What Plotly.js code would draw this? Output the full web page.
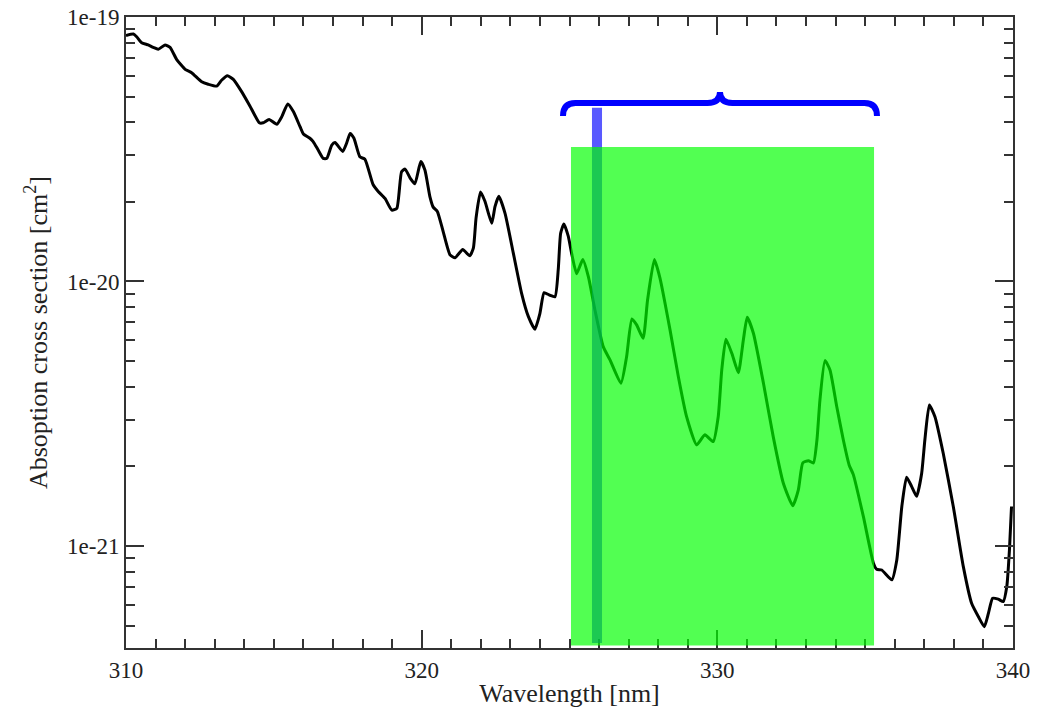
<!DOCTYPE html>
<html>
<head>
<meta charset="utf-8">
<script src="https://cdn.plot.ly/plotly-3.0.1.min.js"></script>
<style>
html,body{margin:0;padding:0;background:#fff;}
#chart{width:1048px;height:711px;}
</style>
</head>
<body>
<div id="chart"></div>
<script>
// Wavelength [nm]
const wavelength = [
310.00,310.25,310.36,310.53,310.75,310.92,311.09,311.32,311.49,311.71,
312.00,312.22,312.56,312.78,313.07,313.24,313.43,313.63,313.91,314.19,
314.51,314.64,314.84,315.10,315.27,315.47,315.66,315.89,316.00,316.22,
316.33,316.50,316.67,316.79,316.96,317.07,317.33,317.46,317.58,317.71,
317.91,318.08,318.36,318.53,318.76,318.99,319.16,319.32,319.44,319.61,
319.77,319.97,320.11,320.28,320.39,320.53,320.73,320.96,321.13,321.39,
321.63,321.75,321.84,321.99,322.14,322.37,322.48,322.61,322.82,323.10,
323.38,323.61,323.83,324.00,324.14,324.32,324.51,324.62,324.70,324.81,
324.96,325.07,325.24,325.45,325.64,325.86,326.14,326.37,326.74,326.93,
327.11,327.27,327.49,327.64,327.87,328.06,328.40,328.68,328.96,329.30,
329.58,329.86,330.03,330.15,330.29,330.49,330.71,330.88,331.01,331.22,
331.56,331.89,332.23,332.55,332.74,332.89,333.08,333.25,333.37,333.47,
333.64,333.81,334.04,334.26,334.46,334.60,334.94,335.28,335.39,335.56,
335.90,336.07,336.24,336.40,336.57,336.74,336.91,337.02,337.17,337.36,
337.64,337.98,338.32,338.60,338.83,339.03,339.17,339.31,339.50,339.67,
339.79,339.88,339.95
];
// Absorption cross section [cm^2]
const crossSection = [
8.51e-20,8.62e-20,8.42e-20,7.99e-20,7.84e-20,7.68e-20,7.55e-20,7.84e-20,7.68e-20,6.92e-20,
6.34e-20,6.16e-20,5.69e-20,5.57e-20,5.48e-20,5.78e-20,6.00e-20,5.81e-20,5.22e-20,4.61e-20,
3.98e-20,3.98e-20,4.10e-20,3.93e-20,4.20e-20,4.69e-20,4.39e-20,3.84e-20,3.61e-20,3.48e-20,
3.38e-20,3.14e-20,2.92e-20,2.92e-20,3.28e-20,3.35e-20,3.10e-20,3.33e-20,3.63e-20,3.48e-20,
2.96e-20,2.90e-20,2.32e-20,2.19e-20,2.06e-20,1.86e-20,1.89e-20,2.60e-20,2.66e-20,2.46e-20,
2.34e-20,2.84e-20,2.64e-20,2.09e-20,1.91e-20,1.84e-20,1.54e-20,1.26e-20,1.23e-20,1.32e-20,
1.25e-20,1.34e-20,1.74e-20,2.18e-20,2.01e-20,1.66e-20,1.92e-20,2.10e-20,1.81e-20,1.28e-20,
9.02e-21,7.36e-21,6.60e-21,7.58e-21,9.07e-21,8.89e-21,8.76e-21,1.11e-20,1.52e-20,1.65e-20,
1.48e-20,1.28e-20,1.07e-20,1.21e-20,1.04e-20,7.80e-21,5.67e-21,5.05e-21,4.12e-21,5.18e-21,
7.21e-21,6.85e-21,6.10e-21,8.51e-21,1.21e-20,1.03e-20,6.56e-21,4.37e-21,3.08e-21,2.41e-21,
2.63e-21,2.48e-21,3.08e-21,4.63e-21,6.05e-21,5.35e-21,4.52e-21,6.01e-21,7.32e-21,6.37e-21,
4.12e-21,2.59e-21,1.73e-21,1.42e-21,1.63e-21,2.06e-21,2.10e-21,2.06e-21,2.52e-21,3.56e-21,
5.02e-21,4.63e-21,3.36e-21,2.52e-21,2.02e-21,1.86e-21,1.29e-21,8.60e-22,8.16e-22,8.11e-22,
7.44e-22,8.85e-22,1.41e-21,1.82e-21,1.68e-21,1.54e-21,1.88e-21,2.52e-21,3.41e-21,3.08e-21,
2.24e-21,1.41e-21,8.35e-22,6.07e-22,5.40e-22,4.95e-22,5.57e-22,6.34e-22,6.29e-22,6.16e-22,
7.02e-22,9.66e-22,1.41e-21
];
const xTickVals = [310, 320, 330, 340];
const xTickText = ['310', '320', '330', '340'];
const yTickVals = [1e-19, 1e-20, 1e-21];
const yTickText = ['1e-19', '1e-20', '1e-21'];

// highlighted band and marker line
const bandStart = 325.05, bandEnd = 335.3;
const markerStart = 325.76, markerEnd = 326.10;
const braceStart = 324.78, braceEnd = 335.40;

const braceMid = (braceStart + braceEnd) / 2;
const r = 0.42;
const yl = 0.8637, yt = 0.881, ye = 0.843;
const bracePath =
  `M ${braceStart},${ye} Q ${braceStart},${yl} ${braceStart + r},${yl} ` +
  `L ${braceMid - r},${yl} Q ${braceMid},${yl} ${braceMid},${yt} ` +
  `Q ${braceMid},${yl} ${braceMid + r},${yl} ` +
  `L ${braceEnd - r},${yl} Q ${braceEnd},${yl} ${braceEnd},${ye}`;

const trace = {
  x: wavelength,
  y: crossSection,
  type: 'scatter',
  mode: 'lines',
  line: {color: '#000', width: 3, shape: 'spline', smoothing: 0.5},
  hoverinfo: 'x+y'
};

const family = 'Liberation Serif, Times New Roman, Times, serif';
const tickFont = {family: family, size: 23, color: '#222'};
const titleFont = {family: family, size: 26, color: '#222'};

const layout = {
  width: 1048, height: 711,
  margin: {l: 126, r: 35, t: 17, b: 63},
  paper_bgcolor: '#fff', plot_bgcolor: '#fff',
  showlegend: false,
  font: tickFont,
  xaxis: {
    range: [310, 340],
    tickmode: 'array', tickvals: xTickVals, ticktext: xTickText,
    ticks: 'inside', ticklen: 18, tickwidth: 2, tickcolor: '#333',
    showline: true, linewidth: 2, linecolor: '#333', mirror: 'ticks',
    showgrid: false, zeroline: false,
    minor: {dtick: 1, ticks: 'inside', ticklen: 9, tickwidth: 2, tickcolor: '#333', showgrid: false},
    tickfont: tickFont,
    title: {text: 'Wavelength [nm]', font: titleFont, standoff: 2}
  },
  yaxis: {
    type: 'log',
    range: [-21.386, -19],
    tickmode: 'array', tickvals: yTickVals, ticktext: yTickText,
    ticks: 'inside', ticklen: 18, tickwidth: 2, tickcolor: '#333',
    showline: true, linewidth: 2, linecolor: '#333', mirror: 'ticks',
    showgrid: false, zeroline: false,
    minor: {dtick: 'D1', ticks: 'inside', ticklen: 9, tickwidth: 2, tickcolor: '#333', showgrid: false},
    tickfont: tickFont,
    title: {text: 'Absoption cross section [cm<sup>2</sup>]', font: titleFont, standoff: 12}
  },
  shapes: [
    {type: 'rect', xref: 'x', yref: 'paper', x0: markerStart, x1: markerEnd, y0: 0.008, y1: 0.856,
     fillcolor: 'rgba(0,0,255,0.65)', line: {width: 0}, layer: 'above'},
    {type: 'rect', xref: 'x', yref: 'paper', x0: bandStart, x1: bandEnd, y0: 0.004, y1: 0.794,
     fillcolor: 'rgba(0,255,0,0.68)', line: {width: 0}, layer: 'above'},
    {type: 'path', xref: 'x', yref: 'paper', path: bracePath,
     line: {color: '#0000ff', width: 6}, layer: 'above'}
  ]
};

Plotly.newPlot('chart', [trace], layout, {displayModeBar: false, staticPlot: true});
</script>
</body>
</html>
